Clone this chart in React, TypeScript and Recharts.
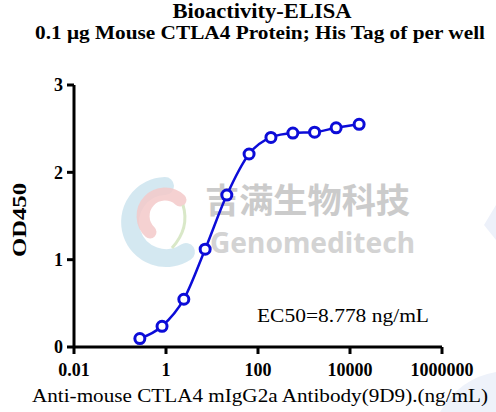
import { LineChart, Line, XAxis, YAxis } from 'recharts';

// antibody concentration (ng/mL) and measured OD450
const concentration = [0.27, 0.82, 2.44, 7.1, 21, 64, 191, 573, 1700, 5000, 15800];
const od450 = [0.096, 0.237, 0.547, 1.12, 1.74, 2.21, 2.4, 2.45, 2.46, 2.51, 2.55];

const xTicks = [0.01, 1, 100, 10000, 1000000];
const yTicks = [0, 1, 2, 3];

const data = concentration.map((c, i) => ({ conc: c, od: od450[i] }));

const serif = "'Times New Roman', 'Liberation Serif', serif";
const blue = '#0c0cd8';

const tickStyle = { fill: '#000', fontSize: 18, fontWeight: 'bold', fontFamily: serif };
const axisStroke = { stroke: '#000', strokeWidth: 3 };

function Watermark() {
  return (
    <svg width={496} height={412} style={{ position: 'absolute', left: 0, top: 0 }}>
      <path d="M 165 186 A 36 36 0 1 0 186 252" fill="none" stroke="#cfe5ef" strokeWidth={18} strokeLinecap="round" opacity={0.9} />
      <path d="M 180 200 A 20 20 0 1 0 150 232" fill="none" stroke="#f3c9c9" strokeWidth={13} strokeLinecap="round" opacity={0.85} />
      <path d="M 183 205 Q 190 228 172 248" fill="none" stroke="#d9e8c8" strokeWidth={3} />
      <path d="M 496 205 L 484 225 L 496 240 Z" fill="#edf1fa" />
      <path d="M 440 412 Q 460 378 496 372 L 496 412 Z" fill="#eef2fa" />
      <text x={205} y={213} fontSize={34} fontWeight="bold" fill="#cbcbcb" textLength={205} lengthAdjust="spacingAndGlyphs"
        fontFamily="'Noto Sans CJK SC', sans-serif">吉满生物科技</text>
      <text x={210} y={253} fontSize={29} fontWeight="bold" fill="#d3d3d3" textLength={205} lengthAdjust="spacingAndGlyphs"
        fontFamily="'Noto Sans', sans-serif">Genomeditech</text>
    </svg>
  );
}

function Labels() {
  return (
    <svg width={496} height={412} style={{ position: 'absolute', left: 0, top: 0, pointerEvents: 'none' }} fontFamily={serif}>
      <text x={262} y={18} textAnchor="middle" fontSize={21} fontWeight="bold" textLength={179} lengthAdjust="spacingAndGlyphs">
        Bioactivity-ELISA
      </text>
      <text x={260} y={39} textAnchor="middle" fontSize={18} fontWeight="bold" textLength={450} lengthAdjust="spacingAndGlyphs">
        0.1 μg Mouse CTLA4 Protein; His Tag  of per well
      </text>
      <text x={257} y={322} fontSize={18} textLength={172} lengthAdjust="spacingAndGlyphs">
        EC50=8.778 ng/mL
      </text>
      <text x={260} y={402} textAnchor="middle" fontSize={18} textLength={456} lengthAdjust="spacingAndGlyphs">
        Anti-mouse CTLA4 mIgG2a Antibody(9D9).(ng/mL)
      </text>
      <text x={0} y={0} transform="translate(26 220) rotate(-90)" textAnchor="middle" fontSize={18} fontWeight="bold"
        textLength={74} lengthAdjust="spacingAndGlyphs">
        OD450
      </text>
    </svg>
  );
}

export default function App() {
  return (
    <div style={{ position: 'absolute', left: 0, top: 0, width: 496, height: 412, background: '#fff' }}>
      <Watermark />
      <div style={{ position: 'absolute', left: 0, top: 0 }}>
        <LineChart width={496} height={412} data={data} margin={{ top: 85, right: 54, bottom: 0, left: 0 }}>
          <XAxis
            dataKey="conc"
            type="number"
            scale="log"
            domain={[0.01, 1000000]}
            ticks={xTicks}
            tickFormatter={(v: number) => String(v)}
            height={65}
            tick={tickStyle}
            axisLine={axisStroke}
            tickLine={axisStroke}
            tickSize={7}
            tickMargin={9}
            interval={0}
          />
          <YAxis
            type="number"
            domain={[0, 3]}
            ticks={yTicks}
            width={74}
            tick={tickStyle}
            axisLine={axisStroke}
            tickLine={axisStroke}
            tickSize={7}
            tickMargin={4}
            interval={0}
          />
          <Line
            dataKey="od"
            type="monotone"
            stroke={blue}
            strokeWidth={2.5}
            dot={{ r: 5, stroke: blue, strokeWidth: 3, fill: '#fff' }}
            isAnimationActive={false}
          />
        </LineChart>
      </div>
      <Labels />
    </div>
  );
}
